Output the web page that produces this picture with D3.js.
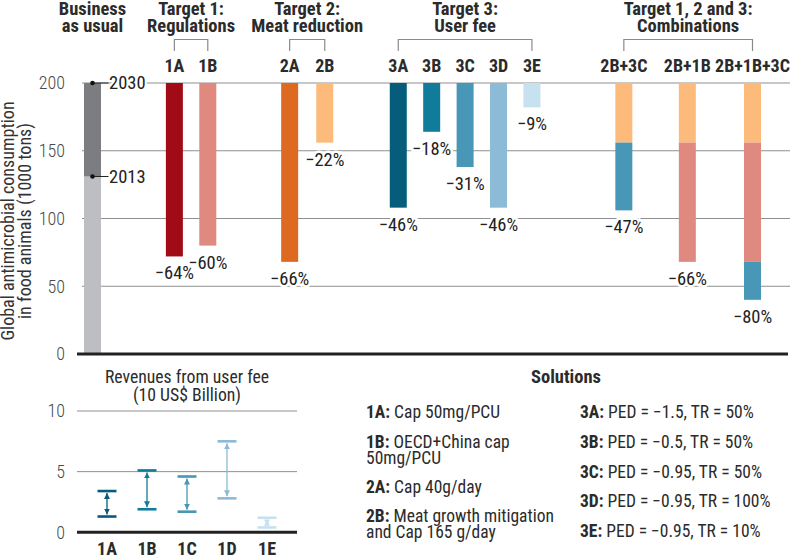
<!DOCTYPE html>
<html>
<head>
<meta charset="utf-8">
<script src="https://cdn.jsdelivr.net/npm/d3@7"></script>
<style>
  body { margin: 0; background: #fff; }
  svg { font-family: "Roboto Condensed", "Liberation Sans Narrow", "DejaVu Sans Condensed", Roboto, sans-serif; }
  .grid { stroke: #8f8f8f; stroke-width: 1; }
  .base { stroke: #222; stroke-width: 3; }
  .tick { fill: #4a4a4a; font-size: 18px; font-weight: 300; }
  .bold { font-weight: 700; fill: #2b2b2b; }
</style>
</head>
<body>
<svg id="chart" width="792" height="556"></svg>
<script>
// ---- data ----
const groupTitles = [['Business', 'as usual'], ['Target 1:', 'Regulations'], ['Target 2:', 'Meat reduction'], ['Target 3:', 'User fee'], ['Target 1, 2 and 3:', 'Combinations']];
const groupMembers = [['BAU'], ['1A', '1B'], ['2A', '2B'], ['3A', '3B', '3C', '3D', '3E'], ['2B+3C', '2B+1B', '2B+1B+3C']];

const bau2013 = 131;
const bau2030 = 200;

const scenarios = ['1A', '1B', '2A', '2B', '3A', '3B', '3C', '3D', '3E'];
const scenarioValues = [72, 80, 68, 156, 108, 164, 138, 108, 182];
const scenarioChange = ['−64%', '−60%', '−66%', '−22%', '−46%', '−18%', '−31%', '−46%', '−9%'];

const combos = ['2B+3C', '2B+1B', '2B+1B+3C'];
const comboParts = [['2B', '3C'], ['2B', '1B'], ['2B', '1B', '3C']];
const comboLevels = [[156, 106], [156, 68], [156, 68, 40]];
const comboChange = ['−47%', '−66%', '−80%'];

const yTicks = [0, 50, 100, 150, 200];

const revCats = ['1A', '1B', '1C', '1D', '1E'];
const revLow = [1.3, 1.9, 1.7, 2.8, 0.4];
const revHigh = [3.4, 5.1, 4.6, 7.5, 1.2];
const revTicks = [0, 5, 10];

const solutionsLeft = [['1A:', ['Cap 50mg/PCU']], ['1B:', ['OECD+China cap', '50mg/PCU']], ['2A:', ['Cap 40g/day']], ['2B:', ['Meat growth mitigation', 'and Cap 165 g/day']]];
const solutionsRight = [['3A:', ['PED = −1.5, TR = 50%']], ['3B:', ['PED = −0.5, TR = 50%']], ['3C:', ['PED = −0.95, TR = 50%']], ['3D:', ['PED = −0.95, TR = 100%']], ['3E:', ['PED = −0.95, TR = 10%']]];

const colors = {
  '1A': '#a00b16', '1B': '#e0897f', '2A': '#de6a21', '2B': '#fdbb7b',
  '3A': '#065c7b', '3B': '#107b9a', '3C': '#4897b6', '3D': '#8bbbd6', '3E': '#c8e1ef'
};
const revColors = ['#065c7b', '#107b9a', '#4897b6', '#8bbbd6', '#c8e1ef'];

// ---- layout ----
const svg = d3.select('#chart');

// slot positions of the categories along the main axis
const slots = {BAU: 0, '1A': 2.45, '1B': 3.45, '2A': 5.9, '2B': 6.95, '3A': 9.15, '3B': 10.15, '3C': 11.15, '3D': 12.15, '3E': 13.15, '2B+3C': 15.9, '2B+1B': 17.8, '2B+1B+3C': 19.75};
const x = d3.scaleLinear().domain([0, 19.75]).range([92.5, 752.5]);
const xc = k => x(slots[k]);
const y = d3.scaleLinear().domain([0, 200]).range([354, 83]);
const barW = 17;

// gridlines
svg.append('g').selectAll('line')
  .data(yTicks.filter(d => d > 0))
  .join('line')
  .attr('class', 'grid')
  .attr('x1', 82).attr('x2', 790)
  .attr('y1', d => y(d)).attr('y2', d => y(d));

svg.append('g').selectAll('text')
  .data(yTicks)
  .join('text')
  .attr('class', 'tick')
  .attr('x', 65).attr('y', d => y(d))
  .attr('dy', '0.35em')
  .attr('text-anchor', 'end')
  .text(d => d);

// y axis title
const yt = svg.append('text')
  .attr('transform', `translate(0,221) rotate(-90)`)
  .attr('text-anchor', 'middle')
  .style('font-size', '18px').style('fill', '#333');
yt.append('tspan').attr('x', 0).attr('y', 14).text('Global antimicrobial consumption');
yt.append('tspan').attr('x', 0).attr('y', 30.5).text('in food animals (1000 tons)');

// group titles and brackets
groupTitles.forEach((t, i) => {
  const m = groupMembers[i];
  const cx = (xc(m[0]) + xc(m[m.length - 1])) / 2;
  const tx = svg.append('text').attr('class', 'bold')
    .attr('text-anchor', 'middle').style('font-size', '18.5px');
  tx.append('tspan').attr('x', cx).attr('y', 14.5).text(t[0]);
  tx.append('tspan').attr('x', cx).attr('y', 31.5).text(t[1]);
  if (m.length > 1) {
    svg.append('path')
      .attr('d', `M${xc(m[0])},51V39.5H${xc(m[m.length - 1])}V51`)
      .attr('fill', 'none').attr('stroke', '#8a8a8a').attr('stroke-width', 1.2);
  }
});

// category labels on top
svg.append('g').selectAll('text')
  .data(scenarios.concat(combos))
  .join('text')
  .attr('class', 'bold')
  .attr('x', d => xc(d)).attr('y', 72)
  .attr('text-anchor', 'middle')
  .style('font-size', '18px')
  .text(d => d);

// business as usual bar
svg.append('rect')
  .attr('x', xc('BAU') - barW / 2).attr('width', barW)
  .attr('y', y(bau2013)).attr('height', y(0) - y(bau2013))
  .attr('fill', '#bdbec1');
svg.append('rect')
  .attr('x', xc('BAU') - barW / 2).attr('width', barW)
  .attr('y', y(bau2030)).attr('height', y(bau2013) - y(bau2030))
  .attr('fill', '#7c7d81');

[[bau2030, '2030'], [bau2013, '2013']].forEach(([v, lab]) => {
  svg.append('line')
    .attr('x1', xc('BAU')).attr('x2', xc('BAU') + 16)
    .attr('y1', y(v)).attr('y2', y(v))
    .attr('stroke', '#222').attr('stroke-width', 1);
  svg.append('circle')
    .attr('cx', xc('BAU')).attr('cy', y(v)).attr('r', 2.3).attr('fill', '#111');
  svg.append('text')
    .attr('x', xc('BAU') + 16.5).attr('y', y(v)).attr('dy', '0.35em')
    .style('font-size', '18.5px').style('fill', '#222')
    .attr('stroke', '#fff').attr('stroke-width', 4).attr('paint-order', 'stroke')
    .text(lab);
});

// single scenario bars
svg.append('g').selectAll('rect')
  .data(scenarios)
  .join('rect')
  .attr('x', d => xc(d) - barW / 2).attr('width', barW)
  .attr('y', y(200))
  .attr('height', (d, i) => y(scenarioValues[i]) - y(200))
  .attr('fill', d => colors[d]);

// combination bars (stacked segments)
combos.forEach((c, i) => {
  let top = 200;
  comboLevels[i].forEach((lv, j) => {
    svg.append('rect')
      .attr('x', xc(c) - barW / 2).attr('width', barW)
      .attr('y', y(top)).attr('height', y(lv) - y(top))
      .attr('fill', colors[comboParts[i][j]]);
    top = lv;
  });
});

// change labels
const labelData = scenarios.map((s, i) => ({k: s, v: scenarioValues[i], t: scenarioChange[i]}))
  .concat(combos.map((c, i) => ({k: c, v: comboLevels[i][comboLevels[i].length - 1], t: comboChange[i]})));
svg.append('g').selectAll('text')
  .data(labelData)
  .join('text')
  .attr('x', d => xc(d.k)).attr('y', d => y(d.v) + 23)
  .attr('text-anchor', 'middle')
  .style('font-size', '18.5px').style('fill', '#222')
  .attr('stroke', '#fff').attr('stroke-width', 5).attr('paint-order', 'stroke')
  .text(d => d.t);

// main baseline
svg.append('line').attr('class', 'base')
  .attr('x1', 77).attr('x2', 788).attr('y1', y(0)).attr('y2', y(0));

// ---- revenues panel ----
const rx = d3.scalePoint().domain(revCats).range([107, 267]);
const ry = d3.scaleLinear().domain([0, 10]).range([532.3, 411]);

const rt = svg.append('text').attr('text-anchor', 'middle')
  .style('font-size', '17.7px').style('fill', '#2b2b2b');
rt.append('tspan').attr('x', 187).attr('y', 383).text('Revenues from user fee');
rt.append('tspan').attr('x', 187).attr('y', 401).text('(10 US$ Billion)');

svg.append('g').selectAll('line')
  .data(revTicks.filter(d => d > 0))
  .join('line')
  .attr('class', 'grid')
  .attr('x1', 77).attr('x2', 297)
  .attr('y1', d => ry(d)).attr('y2', d => ry(d));
svg.append('g').selectAll('text')
  .data(revTicks)
  .join('text')
  .attr('class', 'tick')
  .attr('x', 65).attr('y', d => ry(d)).attr('dy', '0.35em')
  .attr('text-anchor', 'end')
  .text(d => d);

const defs = svg.append('defs');
revColors.forEach((c, i) => {
  defs.append('marker')
    .attr('id', 'arr' + i)
    .attr('viewBox', '0 0 10 10').attr('refX', 10).attr('refY', 5)
    .attr('markerWidth', 6).attr('markerHeight', 6)
    .attr('markerUnits', 'userSpaceOnUse')
    .attr('orient', 'auto-start-reverse')
    .append('path').attr('d', 'M0,0L10,5L0,10Z').attr('fill', c);
});

revCats.forEach((k, i) => {
  const cx = rx(k);
  const g = svg.append('g');
  [revLow[i], revHigh[i]].forEach(v => {
    g.append('line')
      .attr('x1', cx - 9.5).attr('x2', cx + 9.5)
      .attr('y1', ry(v)).attr('y2', ry(v))
      .attr('stroke', revColors[i]).attr('stroke-width', 2.6);
  });
  g.append('line')
    .attr('x1', cx).attr('x2', cx)
    .attr('y1', ry(revLow[i]) - 2).attr('y2', ry(revHigh[i]) + 2)
    .attr('stroke', revColors[i]).attr('stroke-width', 1.3)
    .attr('marker-start', `url(#arr${i})`).attr('marker-end', `url(#arr${i})`);
});

svg.append('line').attr('class', 'base')
  .attr('x1', 77).attr('x2', 297).attr('y1', ry(0)).attr('y2', ry(0));

svg.append('g').selectAll('text')
  .data(revCats)
  .join('text')
  .attr('class', 'bold')
  .attr('x', d => rx(d)).attr('y', 555)
  .attr('text-anchor', 'middle')
  .style('font-size', '18px')
  .text(d => d);

// ---- solutions legend ----
svg.append('text').attr('class', 'bold')
  .attr('x', 566).attr('y', 383).attr('text-anchor', 'middle')
  .style('font-size', '18.5px').text('Solutions');

function legendColumn(items, x0, baselines) {
  items.forEach((it, i) => {
    const t = svg.append('text').attr('x', x0).attr('y', baselines[i])
      .style('font-size', '17.5px').style('fill', '#2b2b2b');
    t.append('tspan').style('font-weight', 700).text(it[0]);
    t.append('tspan').text(' ' + it[1][0]);
    it[1].slice(1).forEach(line => {
      t.append('tspan').attr('x', x0).attr('dy', 15.5).text(line);
    });
  });
}
legendColumn(solutionsLeft, 366, [418, 448, 493, 522]);
legendColumn(solutionsRight, 580, [418, 448, 477.5, 507, 537]);
</script>
</body>
</html>
